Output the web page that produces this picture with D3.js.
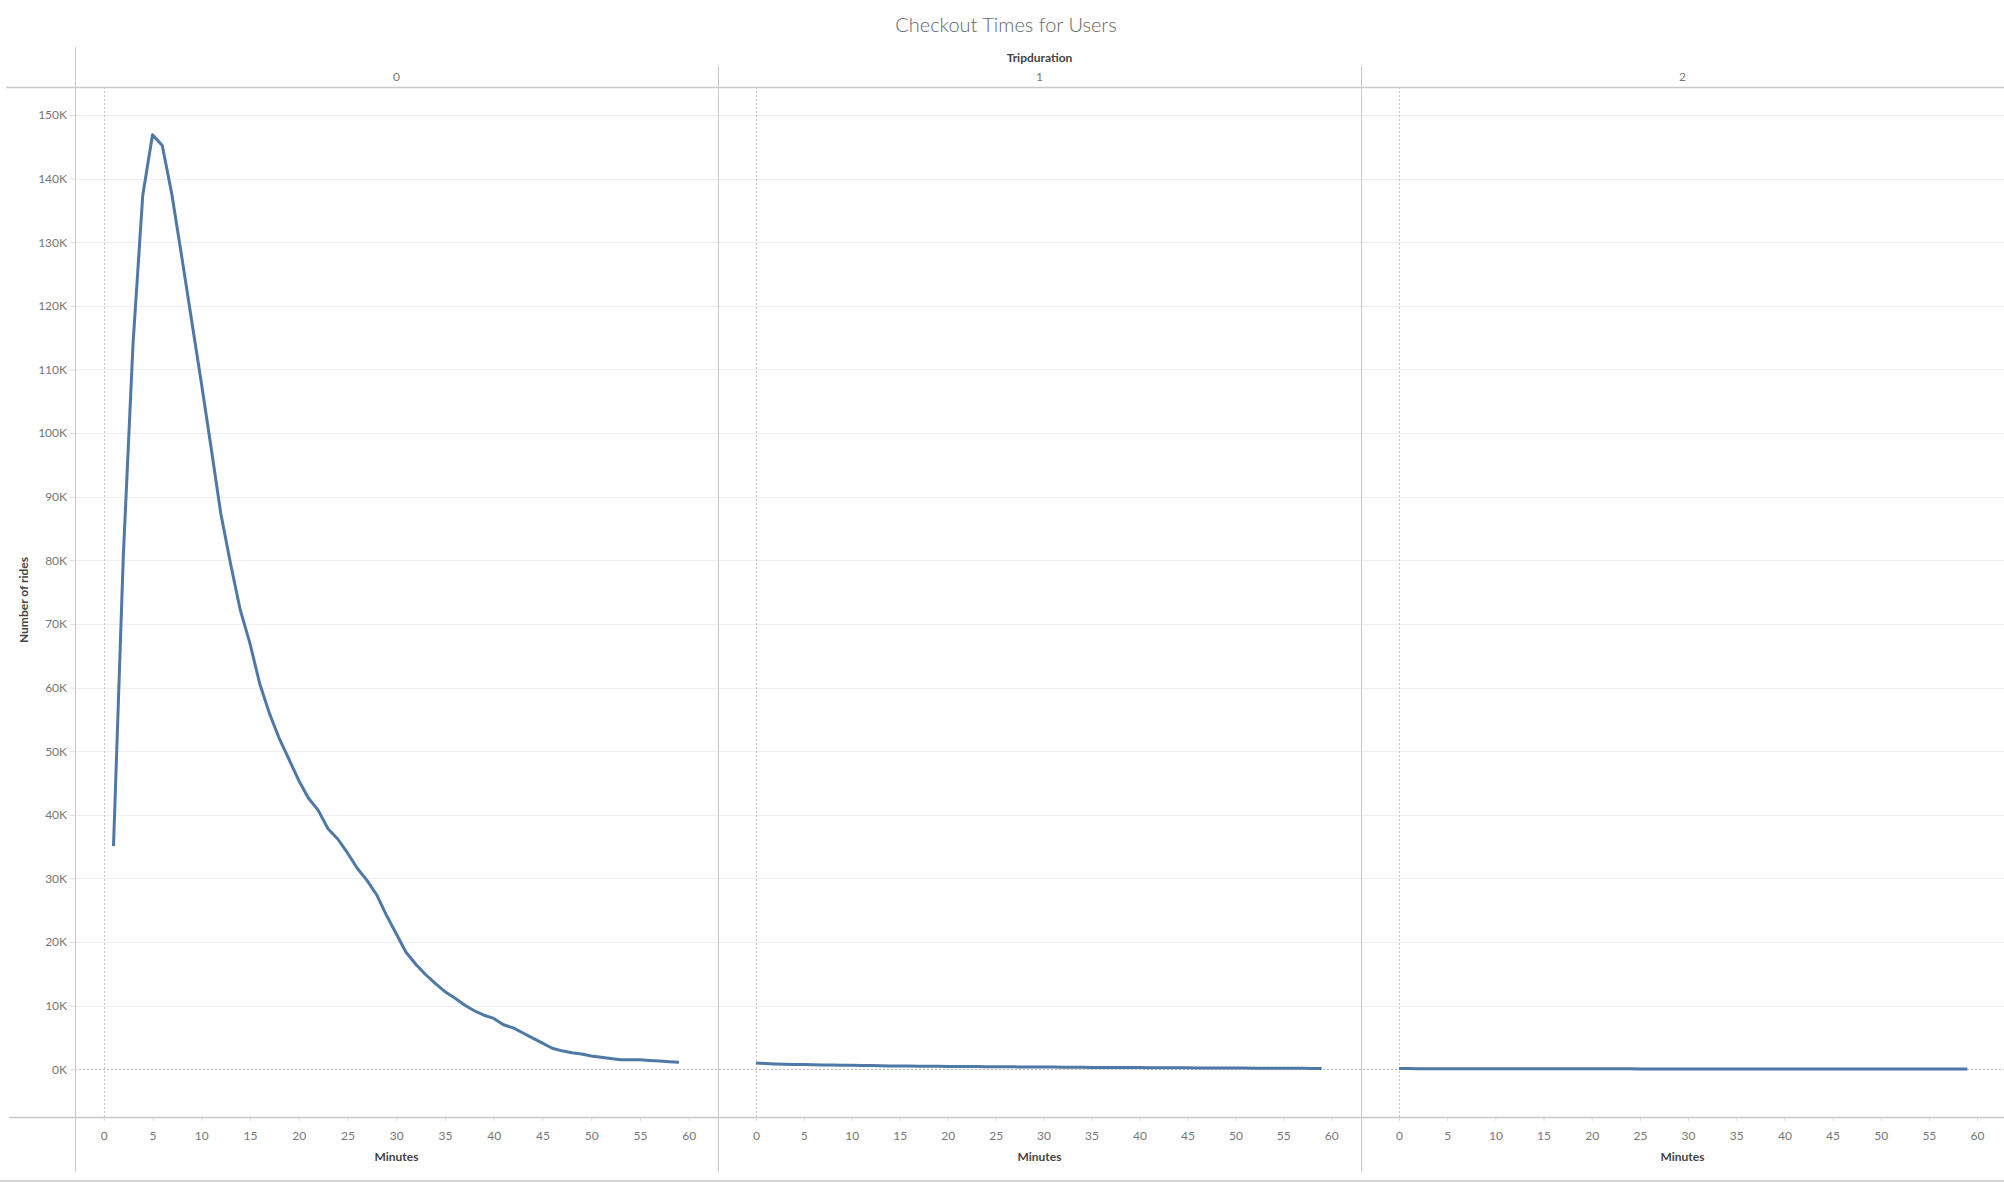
<!DOCTYPE html>
<html>
<head>
<meta charset="utf-8">
<script src="https://cdn.jsdelivr.net/npm/d3@7"></script>
<style>
  body { margin: 0; background: #fff; }
  svg { display: block; font-family: Lato, 'Open Sans', sans-serif; }
</style>
</head>
<body>
<div class="chart"></div>
<script>
// panel categories (Tripduration)
const panels = ['0', '1', '2'];

// minutes for each panel
const minutes0 = d3.range(1, 60);
const minutes1 = d3.range(0, 60);
const minutes2 = d3.range(0, 60);

// number of rides
const rides0 = [
  35100, 80500, 114000, 137400, 146900, 145200, 137400, 127700, 117800, 108000,
  97800, 87400, 79500, 72200, 66900, 60600, 55900, 52000, 48700, 45400,
  42600, 40700, 37800, 36200, 34000, 31600, 29700, 27400, 24200, 21300,
  18400, 16500, 14900, 13500, 12200, 11200, 10100, 9200, 8500, 8000,
  7000, 6500, 5700, 4900, 4100, 3300, 2900, 2600, 2400, 2100,
  1900, 1700, 1500, 1500, 1500, 1400, 1300, 1200, 1100,
];
const rides1 = [
  1000, 910, 850, 800, 770, 740, 700, 690, 660, 640,
  620, 600, 580, 560, 530, 520, 500, 490, 470, 460,
  450, 440, 430, 420, 410, 400, 385, 380, 370, 355,
  350, 340, 330, 315, 310, 300, 295, 290, 280, 270,
  265, 260, 250, 240, 235, 230, 220, 215, 210, 200,
  195, 190, 180, 175, 170, 160, 155, 150, 140, 130,
];
const rides2 = [
  110, 105, 100, 100, 95, 95, 90, 90, 88, 85,
  85, 82, 80, 80, 78, 76, 75, 74, 72, 70,
  70, 68, 67, 66, 65, 64, 63, 62, 61, 60,
  60, 59, 58, 57, 56, 56, 55, 54, 54, 53,
  52, 52, 51, 50, 50, 49, 48, 48, 47, 47,
  46, 46, 45, 45, 44, 44, 43, 43, 42, 42,
];

const yTicks = d3.range(0, 150001, 10000);
const xTicks = d3.range(0, 61, 5);

const series = [
  {key: panels[0], x: minutes0, y: rides0, dom: [-2.95, 63]},
  {key: panels[1], x: minutes1, y: rides1, dom: [-3.95, 63.1]},
  {key: panels[2], x: minutes2, y: rides2, dom: [-3.95, 62.8]},
];

const W = 2004;
const H = 1182;
const plotLeft = 75;
const plotTop = 87;
const plotBottom = 1117;
const panelW = (W - plotLeft) / panels.length;
const lineColor = '#4e79a7';
const frame = '#c9c9c9';

const svg = d3
  .select('.chart')
  .append('svg')
  .attr('width', W)
  .attr('height', H);

const y = d3.scaleLinear().domain([-7500, 154400]).range([plotBottom, plotTop]);

// title + header texts
svg
  .append('text')
  .attr('x', 1006)
  .attr('y', 32)
  .attr('text-anchor', 'middle')
  .style('font-size', '20px')
  .style('font-weight', 300)
  .style('fill', '#666')
  .text('Checkout Times for Users');

svg
  .append('text')
  .attr('x', plotLeft + (W - plotLeft) / 2)
  .attr('y', 62)
  .attr('text-anchor', 'middle')
  .style('font-size', '12px')
  .style('font-weight', 'bold')
  .style('fill', '#444')
  .text('Tripduration');

// gridlines
svg
  .append('g')
  .selectAll('line')
  .data(yTicks.filter(d => d !== 0))
  .enter()
  .append('line')
  .attr('x1', plotLeft)
  .attr('x2', W)
  .attr('y1', d => Math.round(y(d)) + 0.5)
  .attr('y2', d => Math.round(y(d)) + 0.5)
  .attr('stroke', '#efefef');

// zero line
svg
  .append('line')
  .attr('x1', plotLeft)
  .attr('x2', W)
  .attr('y1', Math.round(y(0)) + 0.5)
  .attr('y2', Math.round(y(0)) + 0.5)
  .attr('stroke', '#bdbdbd')
  .attr('stroke-dasharray', '2,2');

// y axis
const yAxis = svg
  .append('g')
  .attr('transform', `translate(${plotLeft},0)`)
  .call(
    d3
      .axisLeft(y)
      .tickValues(yTicks)
      .tickSize(5)
      .tickPadding(3)
      .tickFormat(d => `${d / 1000}K`),
  );
yAxis.select('.domain').remove();
yAxis.selectAll('line').attr('stroke', '#ddd');
yAxis
  .selectAll('text')
  .style('font-family', 'Lato, sans-serif')
  .style('font-size', '12px')
  .style('fill', '#777');

svg
  .append('text')
  .attr('transform', 'translate(28,600) rotate(-90)')
  .attr('text-anchor', 'middle')
  .style('font-size', '12px')
  .style('font-weight', 'bold')
  .style('fill', '#444')
  .text('Number of rides');

const line = d3.line();

series.forEach((s, i) => {
  const x0 = plotLeft + i * panelW;
  const x = d3.scaleLinear().domain(s.dom).range([x0, x0 + panelW]);

  svg
    .append('text')
    .attr('x', x0 + panelW / 2)
    .attr('y', 81)
    .attr('text-anchor', 'middle')
    .style('font-size', '12px')
    .style('fill', '#777')
    .text(s.key);

  // vertical zero line
  svg
    .append('line')
    .attr('x1', Math.round(x(0)) + 0.5)
    .attr('x2', Math.round(x(0)) + 0.5)
    .attr('y1', plotTop)
    .attr('y2', plotBottom)
    .attr('stroke', '#c4c4c4')
    .attr('stroke-dasharray', '2,2');

  const xAxis = svg
    .append('g')
    .attr('transform', `translate(0,${plotBottom})`)
    .call(d3.axisBottom(x).tickValues(xTicks).tickSize(4).tickPadding(10));
  xAxis.select('.domain').remove();
  xAxis.selectAll('line').attr('stroke', '#ddd');
  xAxis
    .selectAll('text')
    .style('font-family', 'Lato, sans-serif')
    .style('font-size', '12px')
    .style('fill', '#777');

  svg
    .append('text')
    .attr('x', x0 + panelW / 2)
    .attr('y', 1161)
    .attr('text-anchor', 'middle')
    .style('font-size', '12px')
    .style('font-weight', 'bold')
    .style('fill', '#444')
    .text('Minutes');

  svg
    .append('path')
    .datum(s.x.map((m, j) => [x(m), y(s.y[j])]))
    .attr('d', line)
    .attr('fill', 'none')
    .attr('stroke', lineColor)
    .attr('stroke-width', 3)
    .attr('stroke-linejoin', 'round');

  if (i > 0) {
    svg
      .append('line')
      .attr('x1', Math.round(x0) + 0.5)
      .attr('x2', Math.round(x0) + 0.5)
      .attr('y1', 66)
      .attr('y2', 1172)
      .attr('stroke', frame);
  }
});

// frame lines
svg
  .append('line')
  .attr('x1', plotLeft + 0.5)
  .attr('x2', plotLeft + 0.5)
  .attr('y1', 47)
  .attr('y2', 1172)
  .attr('stroke', frame);
svg
  .append('line')
  .attr('x1', 6)
  .attr('x2', W)
  .attr('y1', plotTop + 0.5)
  .attr('y2', plotTop + 0.5)
  .attr('stroke', frame)
  .attr('stroke-width', 1.5);
svg
  .append('line')
  .attr('x1', 9)
  .attr('x2', W)
  .attr('y1', plotBottom + 0.5)
  .attr('y2', plotBottom + 0.5)
  .attr('stroke', frame)
  .attr('stroke-width', 1.5);
svg
  .append('line')
  .attr('x1', 0)
  .attr('x2', W)
  .attr('y1', 1181)
  .attr('y2', 1181)
  .attr('stroke', '#d4d4d4')
  .attr('stroke-width', 2);
</script>
</body>
</html>
